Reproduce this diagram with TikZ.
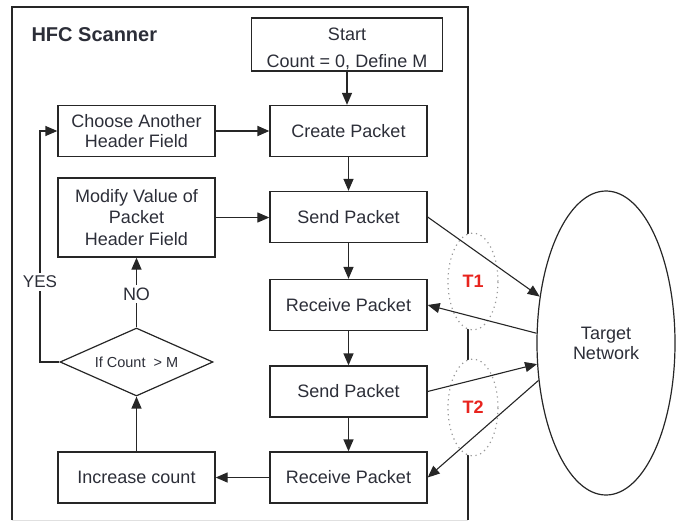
\documentclass[tikz,border=0pt]{standalone}
\usepackage{fontspec}
\setmainfont{Liberation Sans}
\usetikzlibrary{arrows.meta,shapes.geometric}
\definecolor{ink}{RGB}{44,46,56}
\definecolor{tred}{RGB}{232,36,30}
\begin{document}
\begin{tikzpicture}[x=1pt,y=-1pt,
  box/.style={draw=black!85,line width=1.3pt,minimum width=157pt,minimum height=51pt,
    inner sep=0pt,align=center,font=\fontsize{18}{21.5}\selectfont,text=ink},
  flow/.style={line width=1.3pt,draw=black!85,-{Triangle[length=12pt,width=10pt]}},
  plain/.style={line width=1.3pt,draw=black!85},
  label/.style={font=\fontsize{18}{21}\selectfont,text=ink,inner sep=2.5pt},
  timer/.style={ellipse,draw=black!40,dash pattern=on 1.2pt off 3.8pt,line width=1.2pt,
    fill=white,minimum width=50pt,minimum height=97pt,inner sep=0pt,
    font=\bfseries\fontsize{18}{21}\selectfont,text=tred}
]
\useasboundingbox (0,0) rectangle (676,522);

% scanner frame
\draw[line width=1.5pt,black!85] (12,520) -- (12,7) -- (468,7) -- (468,520);
\draw[line width=1pt,black!12] (12,520) -- (468,520);
\node[anchor=base west,font=\bfseries\fontsize{20}{24}\selectfont,text=ink] (title) at (28,41) {HFC Scanner};

% main column
\node[box,minimum width=191pt,minimum height=53pt] (start) at (347,44.5)
  {\rule{0pt}{21pt}Start\\[5pt]Count = 0, Define M};
\node[box] (create) at (348.5,131) {Create Packet};
\node[box] (send1) at (348.5,217) {Send Packet};
\node[box] (recv1) at (348.5,305) {Receive Packet};
\node[box] (send2) at (348.5,391.5) {Send Packet};
\node[box] (recv2) at (348.5,477.5) {Receive Packet};

% left column
\node[box] (choose) at (136.5,131) {Choose Another\\[-1.5pt]Header Field};
\node[box,minimum height=79pt] (modify) at (136.5,217.5) {Modify Value of\\Packet\\Header Field};
\node[box] (incr) at (136.5,477.5) {Increase count};
\node[diamond,draw=black!85,line width=1.2pt,shape aspect=2.25,minimum width=153pt,
  minimum height=68pt,inner sep=0pt,font=\fontsize{14.5}{17}\selectfont,text=ink]
  (dia) at (136.5,362) {If Count\ \ > M};
\node[label] (no) at (136.5,294) {NO};
\node[label,font=\fontsize{17}{20}\selectfont,inner sep=3pt] (yes) at (40,282) {YES};

% timing windows and the target network
\node[timer] (t1) at (473,281.5) {T1};
\node[timer] (t2) at (473,407.5) {T2};
\node[ellipse,draw=black!85,line width=1.2pt,minimum width=138pt,minimum height=304pt,
  inner sep=0pt,align=center,font=\fontsize{18}{20}\selectfont,text=ink] (net) at (606,343) {Target\\Network};

% flow connectors
\draw[flow] (start.south) -- (start.south |- create.north);
\draw[flow] (create) -- (send1);
\draw[flow] (send1) -- (recv1);
\draw[flow] (recv1) -- (send2);
\draw[flow] (send2) -- (recv2);
\draw[flow] (recv2) -- (incr);
\draw[flow] (incr) -- (dia);
\draw[plain] (dia.north) -- (no.south);
\draw[flow] (no.north) -- (modify.south);
\draw[plain] (dia.west) -| (yes.south);
\draw[flow] (yes.north) |- (choose.west);
\draw[flow,line width=1.8pt] (choose.east) -- (create.west);
\draw[flow,line width=1.1pt] (modify.east) -- (modify.east -| send1.west);

% packets to and from the network
\draw[flow,line width=1.1pt] (send1.east) -- (net.145);
\draw[flow,line width=1.1pt] (net.172) -- (recv1.east);
\draw[flow,line width=1.1pt] (send2.east) -- (net.197);
\draw[flow,line width=1.1pt] (net.209.5) -- (recv2.east);
\end{tikzpicture}
\end{document}
